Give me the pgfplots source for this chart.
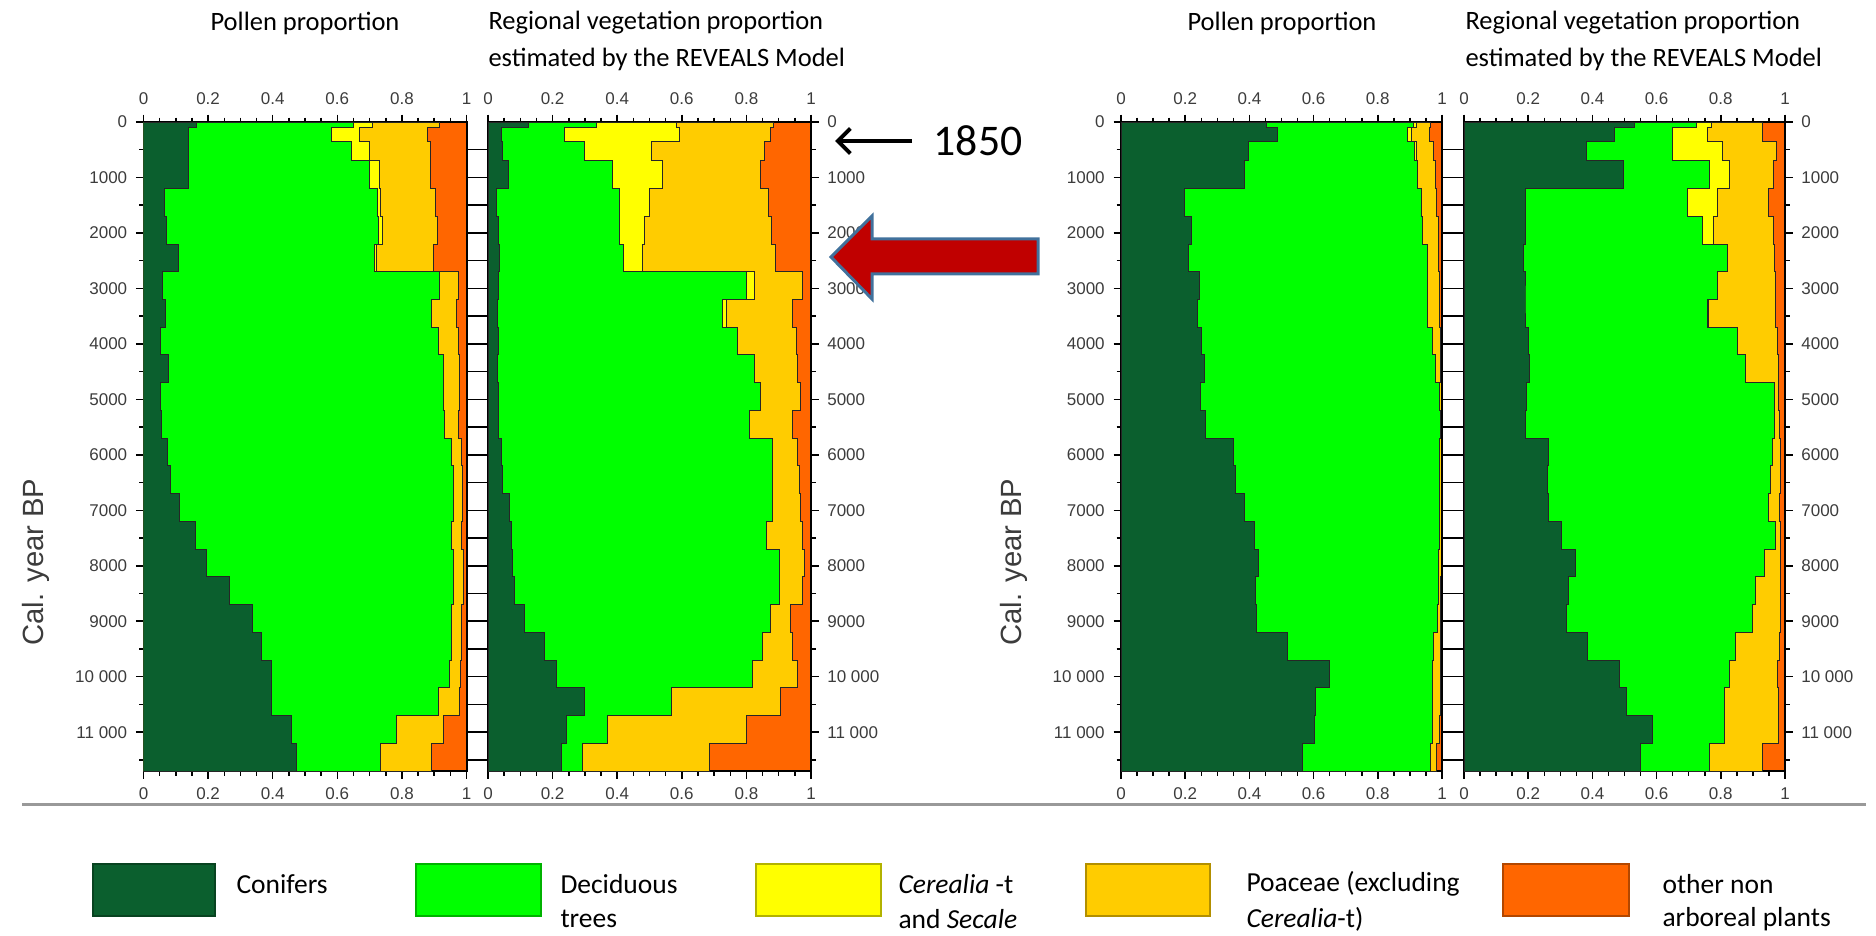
\documentclass[border=0pt]{standalone}
\usepackage{fontspec}
\setmainfont{Carlito}
\newfontfamily\arialf{Liberation Sans}
\usepackage{pgfplots}
\pgfplotsset{compat=1.18}
\usepackage{pgfplotstable}
\usetikzlibrary{arrows.meta}

\definecolor{conif}{RGB}{11,95,46}
\definecolor{decid}{RGB}{0,255,0}
\definecolor{cereal}{RGB}{255,255,0}
\definecolor{poac}{RGB}{255,204,0}
\definecolor{othnap}{RGB}{255,102,0}
\definecolor{tickgray}{RGB}{60,60,60}
\definecolor{arrred}{RGB}{192,0,0}
\definecolor{arrblue}{RGB}{65,113,156}

% cumulative proportions, window start (cal. yr BP)
\pgfplotstableread{
y c1 c2 c3 c4
0 0.165 0.65 0.71 0.915
100 0.14 0.583 0.67 0.878
350 0.14 0.645 0.70 0.89
700 0.138 0.70 0.732 0.888
1200 0.066 0.726 0.735 0.904
1700 0.072 0.728 0.741 0.909
2200 0.107 0.714 0.722 0.898
2700 0.059 0.917 0.917 0.974
3200 0.069 0.891 0.891 0.969
3700 0.054 0.912 0.912 0.974
4200 0.077 0.928 0.928 0.977
4700 0.054 0.928 0.928 0.979
5200 0.056 0.933 0.933 0.974
5700 0.074 0.953 0.953 0.984
6200 0.085 0.959 0.959 0.988
6700 0.111 0.959 0.959 0.988
7200 0.162 0.953 0.953 0.984
7700 0.195 0.959 0.959 0.99
8200 0.266 0.961 0.961 0.99
8700 0.338 0.953 0.953 0.984
9200 0.364 0.953 0.953 0.984
9700 0.395 0.946 0.946 0.981
10200 0.395 0.912 0.912 0.977
10700 0.457 0.783 0.783 0.928
11200 0.475 0.734 0.734 0.891
11700 0 0 0 0
0 0 0 0 0
}\tabA

\pgfplotstableread{
y c1 c2 c3 c4
0 0.124 0.336 0.585 0.885
100 0.041 0.237 0.594 0.875
350 0.046 0.30 0.506 0.855
700 0.062 0.385 0.541 0.845
1200 0.026 0.407 0.500 0.868
1700 0.031 0.407 0.485 0.878
2200 0.036 0.418 0.477 0.89
2700 0.031 0.801 0.825 0.974
3200 0.028 0.727 0.737 0.943
3700 0.031 0.773 0.773 0.954
4200 0.028 0.825 0.825 0.959
4700 0.031 0.845 0.845 0.969
5200 0.031 0.809 0.809 0.943
5700 0.041 0.881 0.881 0.959
6200 0.046 0.881 0.881 0.964
6700 0.067 0.881 0.881 0.969
7200 0.072 0.861 0.861 0.974
7700 0.077 0.902 0.902 0.979
8200 0.082 0.902 0.902 0.974
8700 0.113 0.876 0.876 0.938
9200 0.175 0.851 0.851 0.943
9700 0.211 0.82 0.82 0.959
10200 0.299 0.567 0.567 0.907
10700 0.242 0.371 0.371 0.799
11200 0.227 0.294 0.294 0.686
11700 0 0 0 0
0 0 0 0 0
}\tabB

\pgfplotstableread{
y c1 c2 c3 c4
0 0.452 0.91 0.92 0.965
100 0.489 0.893 0.905 0.962
350 0.396 0.915 0.92 0.975
700 0.385 0.925 0.925 0.98
1200 0.199 0.935 0.935 0.982
1700 0.22 0.94 0.94 0.988
2200 0.209 0.955 0.955 0.99
2700 0.246 0.954 0.954 0.992
3200 0.238 0.954 0.954 0.993
3700 0.251 0.969 0.969 0.995
4200 0.261 0.979 0.979 0.996
4700 0.248 0.993 0.993 0.997
5200 0.264 0.994 0.994 0.997
5700 0.349 0.993 0.993 0.997
6200 0.357 0.993 0.993 0.997
6700 0.385 0.993 0.993 0.997
7200 0.416 0.993 0.993 0.997
7700 0.427 0.99 0.99 0.997
8200 0.419 0.988 0.988 0.996
8700 0.421 0.985 0.985 0.996
9200 0.52 0.975 0.975 0.996
9700 0.649 0.97 0.97 0.995
10200 0.607 0.97 0.97 0.994
10700 0.602 0.969 0.969 0.993
11200 0.564 0.964 0.964 0.984
11700 0 0 0 0
0 0 0 0 0
}\tabC

\pgfplotstableread{
y c1 c2 c3 c4
0 0.532 0.725 0.77 0.93
100 0.47 0.649 0.757 0.93
350 0.382 0.649 0.806 0.975
700 0.496 0.766 0.828 0.965
1200 0.191 0.697 0.79 0.948
1700 0.19 0.744 0.777 0.963
2200 0.185 0.821 0.821 0.968
2700 0.19 0.79 0.79 0.97
3200 0.19 0.757 0.762 0.97
3700 0.20 0.852 0.852 0.978
4200 0.205 0.878 0.878 0.98
4700 0.195 0.966 0.966 0.98
5200 0.19 0.966 0.966 0.983
5700 0.263 0.961 0.961 0.985
6200 0.26 0.956 0.956 0.985
6700 0.262 0.95 0.95 0.983
7200 0.305 0.971 0.971 0.985
7700 0.347 0.935 0.935 0.985
8200 0.325 0.909 0.909 0.985
8700 0.318 0.899 0.899 0.985
9200 0.385 0.847 0.847 0.983
9700 0.483 0.826 0.826 0.976
10200 0.506 0.811 0.811 0.98
10700 0.587 0.811 0.811 0.98
11200 0.549 0.764 0.764 0.93
11700 0 0 0 0
0 0 0 0 0
}\tabD

\newcommand{\tickfont}{\arialf\fontsize{6.8}{7.5}\selectfont}

\pgfplotsset{
  geom/.style={
    scale only axis, anchor=north west,
    height=259.6pt,
    xmin=0, xmax=1, ymin=0, ymax=11700, y dir=reverse,
    scaled x ticks=false, scaled y ticks=false,
    axis line style={line width=0.8pt},
    tick style={black, line width=0.6pt},
    tick align=outside,
    major tick length=3pt, minor tick length=1.8pt,
    xtick={0,0.2,0.4,0.6,0.8,1},
    xticklabels={0,0.2,0.4,0.6,0.8,1},
    minor x tick num=3,
    tick label style={font=\tickfont, text=tickgray},
    ytick={0,1000,...,11000},
    yticklabels={0,1000,2000,3000,4000,5000,6000,7000,8000,9000,10 000,11 000},
    minor ytick={500,1500,...,11500},
  },
  panel/.style={geom,
    xtick pos=both, xticklabel pos=lower,
    axis background/.style={fill=othnap},
  },
  toplab/.style={geom,
    hide y axis,
    xtick pos=upper, xticklabel pos=upper,
    axis line style={draw=none},
    major tick length=0pt, minor tick length=0pt,
    xticklabel style={yshift=3.5pt},
  },
  gapax/.style={
    scale only axis, anchor=north west, width=8.6pt, height=259.6pt,
    xmin=0, xmax=1, ymin=0, ymax=11700, y dir=reverse,
    scaled x ticks=false, scaled y ticks=false,
    hide x axis, axis y line*=left,
    ytick={500,1000,...,11500}, yticklabels={},
    tick align=inside, major tick length=8.6pt,
    tick style={black, line width=0.6pt},
    axis line style={line width=0.8pt},
  },
  lay/.style={const plot mark right, fill=#1, draw=black!85, line width=0.4pt, mark=none},
}

\newcommand{\layers}[1]{%
  \addplot[lay=poac] table[x=c4,y=y]{#1} -- cycle;
  \addplot[lay=cereal] table[x=c3,y=y]{#1} -- cycle;
  \addplot[lay=decid] table[x=c2,y=y]{#1} -- cycle;
  \addplot[lay=conif] table[x=c1,y=y]{#1} -- cycle;
}

\begin{document}
\begin{tikzpicture}
\path[use as bounding box] (0,0) rectangle (750.4pt,-374.4pt);

% ---- panel 1
\begin{axis}[panel, at={(57.4pt,-48.8pt)}, width=129.2pt, ytick pos=left]
\layers{\tabA}
\end{axis}
\begin{axis}[toplab, at={(57.4pt,-48.8pt)}, width=129.2pt]
\end{axis}
\begin{axis}[gapax, at={(186.6pt,-48.8pt)}]
\end{axis}
% ---- panel 2
\begin{axis}[panel, at={(195.2pt,-48.8pt)}, width=129.2pt, ytick pos=right, yticklabel pos=right]
\layers{\tabB}
\end{axis}
\begin{axis}[toplab, at={(195.2pt,-48.8pt)}, width=129.2pt]
\end{axis}
% ---- panel 3
\begin{axis}[panel, at={(448.4pt,-48.8pt)}, width=128.4pt, ytick pos=left]
\layers{\tabC}
\end{axis}
\begin{axis}[toplab, at={(448.4pt,-48.8pt)}, width=128.4pt]
\end{axis}
\begin{axis}[gapax, at={(576.8pt,-48.8pt)}]
\end{axis}
% ---- panel 4
\begin{axis}[panel, at={(585.6pt,-48.8pt)}, width=128.4pt, ytick pos=right, yticklabel pos=right]
\layers{\tabD}
\end{axis}
\begin{axis}[toplab, at={(585.6pt,-48.8pt)}, width=128.4pt]
\end{axis}

% ---- titles
\node[font=\fontsize{10.6}{13}\selectfont] at (122pt,-9.2pt) {Pollen proportion};
\node[font=\fontsize{10.6}{13}\selectfont, anchor=west, inner sep=0pt] at (195.2pt,-9.2pt) {Regional vegetation proportion};
\node[font=\fontsize{10.6}{13}\selectfont, anchor=west, inner sep=0pt] at (195.2pt,-23.6pt) {estimated by the REVEALS Model};
\node[font=\fontsize{10.6}{13}\selectfont] at (512.8pt,-9.2pt) {Pollen proportion};
\node[font=\fontsize{10.6}{13}\selectfont, anchor=west, inner sep=0pt] at (586pt,-9.2pt) {Regional vegetation proportion};
\node[font=\fontsize{10.6}{13}\selectfont, anchor=west, inner sep=0pt] at (586pt,-23.6pt) {estimated by the REVEALS Model};

% ---- y axis titles
\node[rotate=90, font=\arialf\fontsize{11.7}{13}\selectfont, text=tickgray] at (14.4pt,-224.8pt) {Cal. year BP};
\node[rotate=90, font=\arialf\fontsize{11.7}{13}\selectfont, text=tickgray] at (405.6pt,-224.8pt) {Cal. year BP};

% ---- annotations
\draw[line width=1.6pt, -{Straight Barb[length=5pt,width=10pt,line width=1.6pt]}] (364.8pt,-56.4pt) -- (334pt,-56.4pt);
\node[font=\fontsize{17.5}{20}\selectfont] at (391.2pt,-56.4pt) {1850};
\draw[fill=arrred, draw=arrblue, line width=1.2pt, line join=miter]
  (332.4pt,-102.8pt) -- (348.8pt,-86.4pt) -- (348.8pt,-95.6pt) -- (415.2pt,-95.6pt)
  -- (415.2pt,-109.6pt) -- (348.8pt,-109.6pt) -- (348.8pt,-119.6pt) -- cycle;

% ---- separator
\draw[gray!80, line width=1.2pt] (8.8pt,-321.6pt) -- (746.4pt,-321.6pt);

% ---- legend
\tikzset{lbox/.style={draw=#1!70!black, fill=#1, line width=0.5pt}}
\draw[lbox=conif] (37.2pt,-345.6pt) rectangle (86pt,-366.4pt);
\draw[lbox=decid] (166.4pt,-345.6pt) rectangle (216.4pt,-366.4pt);
\draw[lbox=cereal] (302.4pt,-345.6pt) rectangle (352.4pt,-366.4pt);
\draw[lbox=poac] (434.4pt,-345.6pt) rectangle (484pt,-366.4pt);
\draw[lbox=othnap] (601.2pt,-345.6pt) rectangle (651.6pt,-366.4pt);
\begin{scope}[every node/.style={anchor=west, inner sep=0pt, font=\fontsize{11}{13}\selectfont}]
\node at (94.4pt,-353.6pt) {Conifers};
\node at (224pt,-353.6pt) {Deciduous};
\node at (224pt,-367.6pt) {trees};
\node at (359.2pt,-353.6pt) {\textit{Cerealia} -t};
\node at (359.2pt,-367.6pt) {and \textit{Secale}};
\node at (498.4pt,-353.6pt) {Poaceae (excluding};
\node at (498.4pt,-367.6pt) {\textit{Cerealia}-t)};
\node at (664.8pt,-353.6pt) {other non};
\node at (664.8pt,-367.6pt) {arboreal plants};
\end{scope}
\end{tikzpicture}
\end{document}
